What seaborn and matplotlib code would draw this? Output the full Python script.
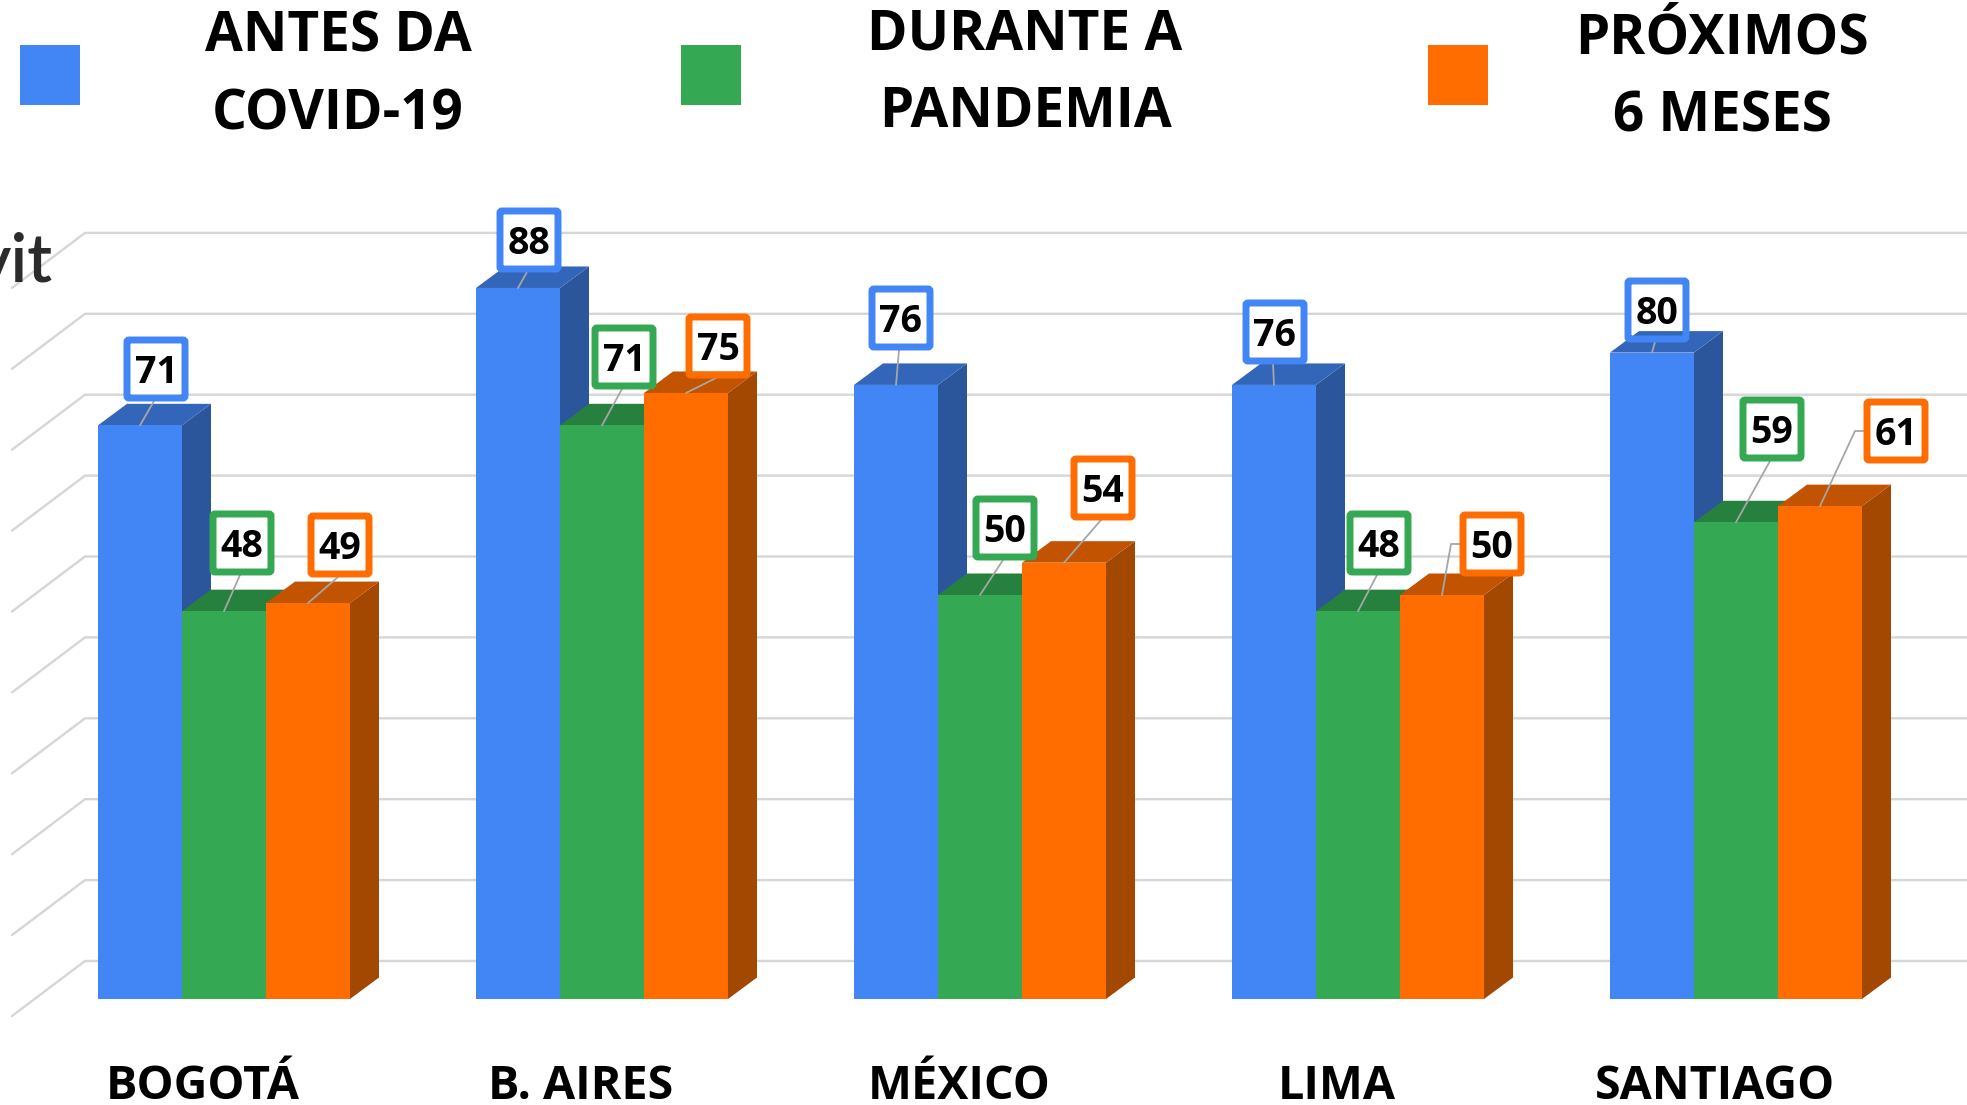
import pandas as pd
import seaborn as sns
import matplotlib.pyplot as plt
from matplotlib.patches import Polygon, Rectangle, FancyBboxPatch
from matplotlib.transforms import Affine2D, ScaledTranslation

# values
cities = ['BOGOTÁ', 'B. AIRES', 'MÉXICO', 'LIMA', 'SANTIAGO']
series = ['ANTES DA\nCOVID-19', 'DURANTE A\nPANDEMIA', 'PRÓXIMOS\n6 MESES']
antes = [71, 88, 76, 76, 80]
durante = [48, 71, 50, 48, 59]
proximos = [49, 75, 54, 50, 61]
grid_values = [0, 10, 20, 30, 40, 50, 60, 70, 80, 90]

front_colors = ['#4285F4', '#34A853', '#FF6D00']
top_colors = ['#3366B8', '#26803E', '#C25300']
side_colors = ['#2C569C', '#1F6B34', '#A24800']

# label box centres in image pixels
box_x = [[156, 529, 901, 1275, 1657],
         [242, 624, 1005, 1379, 1772],
         [340, 718, 1103, 1492, 1896]]
box_y = [[369, 240, 318, 332, 310],
         [543, 357, 528, 543, 429],
         [545, 346, 488, 544, 431]]
legend_x = [20, 681, 1428]
legend_text_x = [338, 1025, 1722]
legend_base = [[52, 129], [50, 127], [54, 132]]

W, H = 1967, 1105
FLOOR = 999
UNIT = 8.08
PITCH = 378
FIRST = 224

df = pd.DataFrame({
    'city': cities * 3,
    'serie': [s for s in series for c in cities],
    'valor': antes + durante + proximos,
})

sns.set_style('white')
plt.rcParams['font.family'] = ['Open Sans', 'DejaVu Sans']

fig = plt.figure(figsize=(W / 100, H / 100), dpi=100)
ax = fig.add_axes([0, (H - FLOOR) / H, 1, FLOOR / H])
sns.barplot(data=df, x='city', y='valor', hue='serie', hue_order=series,
            palette=front_colors, width=2 / 3, gap=0, saturation=1,
            linewidth=0, legend=False, ax=ax)
ax.set_xlim(-FIRST / PITCH, (W - FIRST) / PITCH)
ax.set_ylim(0, FLOOR / UNIT)
ax.set_xlabel('')
ax.set_ylabel('')
ax.set_yticks([])
ax.tick_params(axis='x', length=0, pad=46)
sns.despine(ax=ax, left=True, bottom=True)
ax.patch.set_alpha(0)

for lab in ax.get_xticklabels():
    lab.set_fontsize(33.6)
    lab.set_fontweight('bold')
    lab.set_color('black')
    lab.set_transform(lab.get_transform() + ScaledTranslation(-21 / 100, 0, fig.dpi_scale_trans))

# image pixels, y going down
px = Affine2D().scale(1, -1).translate(0, H)

# back wall grid
for v in grid_values:
    y = 961 - v * 8.09
    ax.plot([12, 85, W], [y + 55, y, y], color='#D6D6D6', lw=1.7, transform=px,
            clip_on=False, zorder=1)

# 3d faces behind the front of each bar
dx = 29 / PITCH
dy = 21.5 / UNIT
for i, bars in enumerate(ax.containers):
    for bar in bars:
        x0, w, h = bar.get_x(), bar.get_width(), bar.get_height()
        bar.set_zorder(4)
        ax.add_patch(Polygon([(x0 + w, 0), (x0 + w, h), (x0 + w + dx, h + dy), (x0 + w + dx, dy)],
                             fc=side_colors[i], lw=0, zorder=3 + i * 0.1))
        ax.add_patch(Polygon([(x0, h), (x0 + w, h), (x0 + w + dx, h + dy), (x0 + dx, h + dy)],
                             fc=top_colors[i], lw=0, zorder=3 + i * 0.1 + 0.05))

# data labels
for i, bars in enumerate(ax.containers):
    for j, bar in enumerate(bars):
        bx, by = box_x[i][j], box_y[i][j]
        xa, ya = ax.transData.transform((bar.get_x() + bar.get_width() / 2, bar.get_height()))
        start = (xa, H - ya)
        left = bx - 32
        if left - start[0] > 15:
            pts = [start, (left - 9, by), (left, by)]
        else:
            pts = [start, (bx - 2, by + 32)]
        ax.plot([p[0] for p in pts], [p[1] for p in pts], color='#A6A6A6', lw=1.3,
                transform=px, clip_on=False, zorder=5)
        # fill goes under the bars, border and number over them
        ax.add_patch(Rectangle((bx - 30, by - 30), 60, 60, fc='white', lw=0, transform=px, zorder=2))
        ax.add_patch(FancyBboxPatch((bx - 27, by - 27), 54, 54, boxstyle='round,pad=2,rounding_size=2',
                                    fc='none', ec=front_colors[i], lw=5, transform=px, zorder=6))
        ax.text(bx, by + 14, str(int(bar.get_height())), ha='center', va='baseline', fontsize=27,
                fontweight='bold', color='black', transform=px, zorder=7)

# legend
for i, s in enumerate(series):
    ax.add_patch(Rectangle((legend_x[i], 45), 60, 60, fc=front_colors[i], lw=0,
                           transform=px, clip_on=False, zorder=4))
    for line, base in zip(s.split('\n'), legend_base[i]):
        ax.text(legend_text_x[i], base, line, ha='center', va='baseline', fontsize=39.5,
                fontweight='bold', color='black', transform=px, clip_on=False)

# fragment of logo at the left edge
ax.text(53, 281, 'vit', ha='right', va='baseline', fontsize=49, color='#2B2B2B', fontweight=600,
        family=['Lato', 'DejaVu Sans'], transform=px, zorder=2)

fig.savefig('out.png', dpi=100)
